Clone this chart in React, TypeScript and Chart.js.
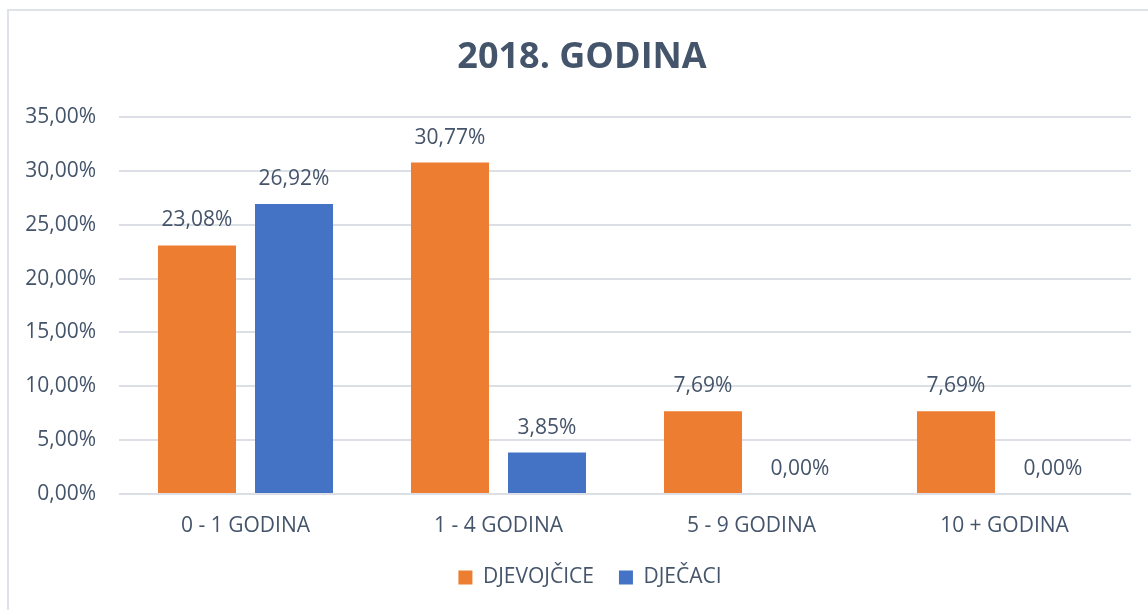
import React, { useEffect, useRef } from "react";
import { Chart, registerables } from "chart.js";

Chart.register(...registerables);

const categories = ["0 - 1 GODINA", "1 - 4 GODINA", "5 - 9 GODINA", "10 + GODINA"];
const girls = [23.08, 30.77, 7.69, 7.69];
const boys = [26.92, 3.85, 0.0, 0.0];
const seriesNames = ["DJEVOJČICE", "DJEČACI"];
const titleText = "2018. GODINA";

const TEXT = "#44546A";
const FONT = "'Open Sans', 'Noto Sans', sans-serif";
const FS = 21;

const fmt = (v: number) => v.toFixed(2).replace(".", ",") + "%";

const labelPlugin = {
  id: "valueLabels",
  afterLayout(chart: any) {
    const t = chart.titleBlock;
    if (t) {
      t.left += 9;
      t.right += 9;
    }
    const l = chart.legend;
    if (l) {
      l.left += 17;
      l.right += 17;
      if (l.adjustHitBoxes) l.adjustHitBoxes();
    }
  },
  afterDatasetsDraw(chart: any) {
    const ctx = chart.ctx;
    ctx.save();
    ctx.font = `${FS}px ${FONT}`;
    ctx.fillStyle = TEXT;
    ctx.textAlign = "center";
    ctx.textBaseline = "middle";
    chart.data.datasets.forEach((ds: any, i: number) => {
      const meta = chart.getDatasetMeta(i);
      meta.data.forEach((el: any, j: number) => {
        ctx.fillText(fmt(ds.data[j]), el.x, el.y - 25);
      });
    });
    ctx.restore();
  },
};

export default function App() {
  const ref = useRef<HTMLCanvasElement>(null);
  useEffect(() => {
    if (!ref.current) return;
    const chart = new Chart(ref.current, {
      type: "bar",
      data: {
        labels: categories,
        datasets: [
          {
            label: seriesNames[0],
            data: girls,
            backgroundColor: "#ED7D31",
            categoryPercentage: 0.767,
            barPercentage: 0.804,
          },
          {
            label: seriesNames[1],
            data: boys,
            backgroundColor: "#4472C4",
            categoryPercentage: 0.767,
            barPercentage: 0.804,
          },
        ],
      },
      options: {
        animation: false,
        responsive: false,
        maintainAspectRatio: false,
        layout: { padding: { left: 15, right: 17, top: 0, bottom: 12 } },
        plugins: {
          title: {
            display: true,
            text: titleText,
            color: TEXT,
            font: { family: FONT, size: 36, weight: "bold" },
            padding: { top: 36, bottom: 37.8 },
          },
          legend: {
            position: "bottom",
            labels: {
              boxWidth: 14,
              boxHeight: 14,
              padding: 25,
              color: TEXT,
              font: { family: FONT, size: FS },
            },
          },
          tooltip: { enabled: false },
        },
        scales: {
          x: {
            grid: { display: false },
            border: { display: false },
            ticks: { color: TEXT, font: { family: FONT, size: FS }, padding: 11 },
            afterFit: (s: any) => {
              s.height = 48;
            },
          },
          y: {
            min: 0,
            max: 35,
            ticks: {
              stepSize: 5,
              color: TEXT,
              font: { family: FONT, size: FS },
              padding: 23,
              callback: (v: any) => fmt(Number(v)),
            },
            grid: { color: "#DCE0E6", lineWidth: 2, drawTicks: false },
            border: { display: false },
            afterFit: (s: any) => {
              s.width = 104;
            },
          },
        },
      },
      plugins: [labelPlugin],
    });
    return () => chart.destroy();
  }, []);

  return (
    <div style={{ position: "fixed", left: 0, top: 0, width: 1148, height: 610, background: "#fff", overflow: "hidden" }}>
      <div
        style={{
          position: "absolute",
          left: 7,
          top: 9,
          width: 1170,
          height: 640,
          border: "2px solid #DFE2E8",
          boxSizing: "border-box",
        }}
      />
      <canvas ref={ref} width={1148} height={610} style={{ position: "absolute", left: 0, top: 0, width: 1148, height: 610 }} />
    </div>
  );
}
